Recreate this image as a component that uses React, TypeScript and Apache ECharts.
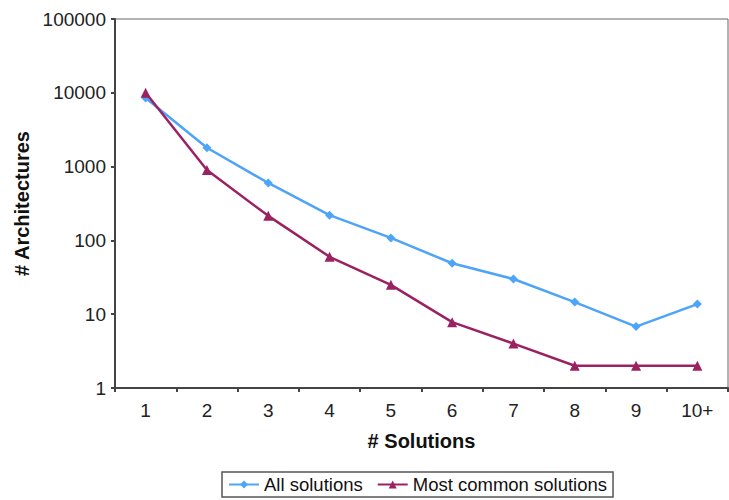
import React, { useEffect, useRef } from "react";
import * as echarts from "echarts";

const categories = ["1", "2", "3", "4", "5", "6", "7", "8", "9", "10+"];
const allSolutions = [8500, 1800, 600, 220, 108, 49, 30, 14.6, 6.8, 13.7];
const mostCommon = [10000, 900, 215, 60, 25, 7.8, 4, 2, 2, 2];

const FONT = "'Liberation Sans', Arial, sans-serif";

export default function App() {
  const ref = useRef<HTMLDivElement>(null);
  useEffect(() => {
    if (!ref.current) return;
    const chart = echarts.init(ref.current, undefined, { renderer: "svg" });
    chart.setOption({
      animation: false,
      backgroundColor: "#fff",
      textStyle: { fontFamily: FONT },
      grid: {
        left: 115,
        right: 1,
        top: 19,
        bottom: 112,
        show: true,
        borderColor: "#666",
        borderWidth: 1,
        backgroundColor: "transparent",
      },
      legend: {
        bottom: 3,
        left: 222,
        itemGap: 14,
        itemWidth: 30,
        itemHeight: 10,
        padding: [3, 6, 3, 6],
        borderColor: "#555",
        borderWidth: 1.5,
        textStyle: { fontSize: 18.5, color: "#111", fontFamily: FONT },
        data: ["All solutions", "Most common solutions"],
      },
      xAxis: {
        type: "category",
        data: categories,
        boundaryGap: true,
        name: "# Solutions",
        nameLocation: "middle",
        nameGap: 43,
        nameTextStyle: { fontSize: 20, fontWeight: "bold", color: "#111", fontFamily: FONT },
        axisLine: { show: true, lineStyle: { color: "#444", width: 2 } },
        axisTick: { show: true, length: 4, lineStyle: { color: "#444", width: 2 } },
        axisLabel: { fontSize: 19, color: "#222", margin: 13, fontFamily: FONT },
        splitLine: { show: false },
      },
      yAxis: {
        type: "log",
        logBase: 10,
        min: 1,
        max: 100000,
        name: "# Architectures",
        nameLocation: "middle",
        nameGap: 80,
        nameTextStyle: { fontSize: 20, fontWeight: "bold", color: "#111", fontFamily: FONT },
        axisLine: { show: true, lineStyle: { color: "#444", width: 2 } },
        axisTick: { show: true, length: 4, lineStyle: { color: "#444", width: 2 } },
        axisLabel: {
          fontSize: 19,
          color: "#222",
          margin: 9,
          fontFamily: FONT,
          formatter: (v: number) => String(Math.round(v)),
        },
        splitLine: { show: false },
        minorTick: { show: false },
      },
      series: [
        {
          name: "All solutions",
          type: "line",
          data: allSolutions,
          symbol: "diamond",
          symbolSize: 9,
          lineStyle: { color: "#4ea4f6", width: 2.5 },
          itemStyle: { color: "#4ea4f6" },
          z: 2,
        },
        {
          name: "Most common solutions",
          type: "line",
          data: mostCommon,
          symbol: "triangle",
          symbolSize: 10,
          lineStyle: { color: "#9b2262", width: 2.5 },
          itemStyle: { color: "#9b2262" },
          z: 3,
        },
      ],
    });
    return () => chart.dispose();
  }, []);
  return <div ref={ref} style={{ width: 729, height: 500, position: "absolute", left: 0, top: 0 }} />;
}
